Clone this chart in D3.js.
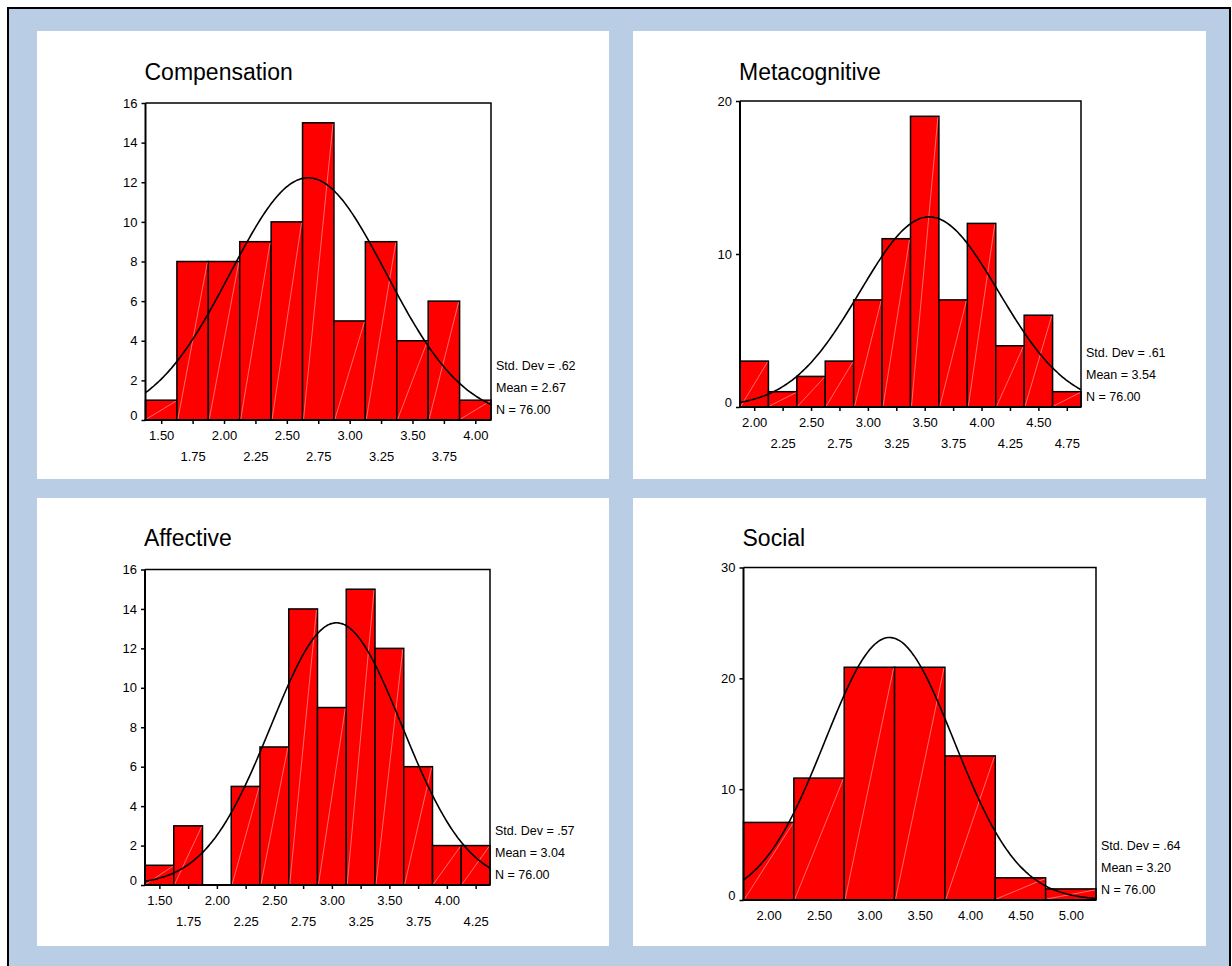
<!DOCTYPE html>
<html>
<head>
<meta charset="utf-8">
<script src="https://cdn.jsdelivr.net/npm/d3@7"></script>
<style>
  body { margin: 0; background: #fff; }
  text { font-family: "Liberation Sans", Arial, sans-serif; fill: #000; }
</style>
</head>
<body>
<div id="chart-area"></div>
<script>
// bin centres and counts
var compCenters = [1.50, 1.75, 2.00, 2.25, 2.50, 2.75, 3.00, 3.25, 3.50, 3.75, 4.00];
var compCounts  = [1, 8, 8, 9, 10, 15, 5, 9, 4, 6, 1];
var compYTicks  = [0, 2, 4, 6, 8, 10, 12, 14, 16];
var compStats   = [0.62, 2.67, 76];

var metaCenters = [2.00, 2.25, 2.50, 2.75, 3.00, 3.25, 3.50, 3.75, 4.00, 4.25, 4.50, 4.75];
var metaCounts  = [3, 1, 2, 3, 7, 11, 19, 7, 12, 4, 6, 1];
var metaYTicks  = [0, 10, 20];
var metaStats   = [0.61, 3.54, 76];

var affCenters = [1.50, 1.75, 2.00, 2.25, 2.50, 2.75, 3.00, 3.25, 3.50, 3.75, 4.00, 4.25];
var affCounts  = [1, 3, 0, 5, 7, 14, 9, 15, 12, 6, 2, 2];
var affYTicks  = [0, 2, 4, 6, 8, 10, 12, 14, 16];
var affStats   = [0.57, 3.04, 76];

var socCenters = [2.00, 2.50, 3.00, 3.50, 4.00, 4.50, 5.00];
var socCounts  = [7, 11, 21, 21, 13, 2, 1];
var socYTicks  = [0, 10, 20, 30];
var socStats   = [0.64, 3.20, 76];

var titles = ["Compensation", "Metacognitive", "Affective", "Social"];

var width = 1232;
var height = 966;

var svg = d3.select("#chart-area").append("svg")
	.attr("width", width)
	.attr("height", height);

// blue frame with black border
svg.append("rect")
	.attr("x", 8).attr("y", 8)
	.attr("width", 1222).attr("height", 970)
	.attr("fill", "#b9cde5")
	.attr("stroke", "#000")
	.attr("stroke-width", 2);

var panelBoxes = [
	{x: 37, y: 31, w: 572, h: 448},
	{x: 633, y: 31, w: 573, h: 448},
	{x: 37, y: 498, w: 572, h: 448},
	{x: 633, y: 498, w: 573, h: 448}
];
panelBoxes.forEach(function(b) {
	svg.append("rect")
		.attr("x", b.x).attr("y", b.y)
		.attr("width", b.w).attr("height", b.h)
		.attr("fill", "#fff");
});

var charts = [
	{title: titles[0], centers: compCenters, counts: compCounts, yTicks: compYTicks, stats: compStats,
	 bw: 0.25, left: 145.5, right: 491, top: 103, bottom: 420, titleY: 80, twoRows: true},
	{title: titles[1], centers: metaCenters, counts: metaCounts, yTicks: metaYTicks, stats: metaStats,
	 bw: 0.25, left: 740, right: 1081, top: 101, bottom: 407, titleY: 80, twoRows: true},
	{title: titles[2], centers: affCenters, counts: affCounts, yTicks: affYTicks, stats: affStats,
	 bw: 0.25, left: 145, right: 490, top: 569.5, bottom: 885, titleY: 546, twoRows: true},
	{title: titles[3], centers: socCenters, counts: socCounts, yTicks: socYTicks, stats: socStats,
	 bw: 0.5, left: 743.5, right: 1096, top: 567.5, bottom: 900, titleY: 546, twoRows: false}
];

charts.forEach(function(c) {
	var lo = c.centers[0] - c.bw / 2;
	var hi = c.centers[c.centers.length - 1] + c.bw / 2;

	var x = d3.scaleLinear().domain([lo, hi]).range([c.left, c.right]);
	var y = d3.scaleLinear().domain([0, d3.max(c.yTicks)]).range([c.bottom, c.top]);

	var g = svg.append("g");

	g.append("text")
		.attr("x", c.left - 1)
		.attr("y", c.titleY)
		.attr("font-size", "23px")
		.text(c.title);

	// bars
	var bins = c.centers.map(function(d, i) { return {center: d, count: c.counts[i]}; })
		.filter(function(d) { return d.count > 0; });

	g.selectAll("rect.bar")
		.data(bins)
		.enter()
		.append("rect")
			.attr("class", "bar")
			.attr("x", function(d) { return x(d.center - c.bw / 2); })
			.attr("y", function(d) { return y(d.count); })
			.attr("width", function(d) { return x(d.center + c.bw / 2) - x(d.center - c.bw / 2); })
			.attr("height", function(d) { return y(0) - y(d.count); })
			.attr("fill", "#ff0000")
			.attr("stroke", "#000")
			.attr("stroke-width", 1.5);

	// faint diagonal streak in each bar
	g.selectAll("line.streak")
		.data(bins)
		.enter()
		.append("line")
			.attr("x1", function(d) { return x(d.center - c.bw / 2) + 1; })
			.attr("y1", y(0) - 1)
			.attr("x2", function(d) { return x(d.center + c.bw / 2) - 1; })
			.attr("y2", function(d) { return y(d.count) + 1; })
			.attr("stroke", "#ffb3b3")
			.attr("stroke-width", 0.6);

	// fitted normal curve from the stated mean and sd
	var sd = c.stats[0], mean = c.stats[1], n = c.stats[2];
	var pts = d3.range(0, 201).map(function(i) {
		var v = lo + (hi - lo) * i / 200;
		var z = (v - mean) / sd;
		return [v, n * c.bw * Math.exp(-0.5 * z * z) / (sd * Math.sqrt(2 * Math.PI))];
	});
	var line = d3.line()
		.x(function(d) { return x(d[0]); })
		.y(function(d) { return y(d[1]); })
		.curve(d3.curveBasis);
	g.append("path")
		.attr("d", line(pts))
		.attr("fill", "none")
		.attr("stroke", "#000")
		.attr("stroke-width", 1.6);

	// frame: top and right
	g.append("path")
		.attr("d", "M" + c.left + "," + c.top + "H" + c.right + "V" + c.bottom)
		.attr("fill", "none")
		.attr("stroke", "#000")
		.attr("stroke-width", 1.5);

	// left axis
	var leftAxis = d3.axisLeft(y)
		.tickValues(c.yTicks)
		.tickSize(4)
		.tickSizeOuter(0)
		.tickPadding(4);
	var ly = g.append("g")
		.attr("transform", "translate(" + c.left + ",0)")
		.call(leftAxis);
	ly.select(".domain").attr("stroke-width", 2).attr("d", "M0," + c.top + "V" + (c.bottom + 1));
	ly.selectAll("line").attr("stroke-width", 1.5);
	ly.selectAll("text")
		.attr("font-size", "13px")
		.attr("font-family", "Liberation Sans, Arial, sans-serif")
		.attr("dy", function(d) { return d === 0 ? "-0.05em" : "0.32em"; });

	// bottom axis
	var bottomAxis = d3.axisBottom(x)
		.tickValues(c.centers)
		.tickFormat(d3.format(".2f"))
		.tickSize(c.twoRows ? 4 : 0)
		.tickSizeOuter(0)
		.tickPadding(9);
	var bx = g.append("g")
		.attr("transform", "translate(0," + c.bottom + ")")
		.call(bottomAxis);
	bx.select(".domain").attr("stroke-width", 2).attr("d", "M" + (c.left - 1) + ",0H" + c.right);
	bx.selectAll("line").attr("stroke-width", 1.5);
	bx.selectAll("text")
		.attr("font-size", "13px")
		.attr("font-family", "Liberation Sans, Arial, sans-serif")
		.attr("y", function(d, i) { return (c.twoRows && i % 2 === 1) ? 32 : 11; });

	// summary statistics
	var statText = [
		"Std. Dev = ." + d3.format(".2f")(sd).split(".")[1],
		"Mean = " + d3.format(".2f")(mean),
		"N = " + d3.format(".2f")(n)
	];
	g.selectAll("text.stat")
		.data(statText)
		.enter()
		.append("text")
			.attr("class", "stat")
			.attr("x", c.right + 5)
			.attr("y", function(d, i) { return c.bottom - 54 + i * 22; })
			.attr("dy", "0.35em")
			.attr("font-size", "12.5px")
			.text(function(d) { return d; });
});
</script>
</body>
</html>
